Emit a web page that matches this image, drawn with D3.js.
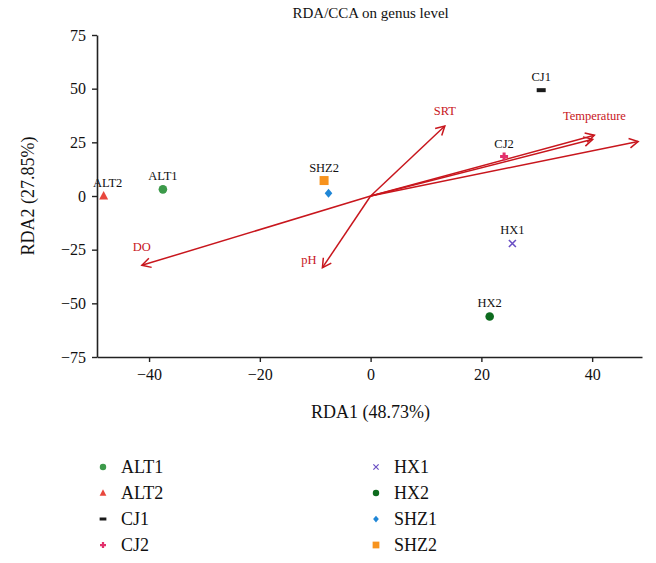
<!DOCTYPE html>
<html><head><meta charset="utf-8">
<script src="https://cdn.jsdelivr.net/npm/d3@7/dist/d3.min.js"></script>
<style>body{margin:0;background:#fff}svg{display:block}svg text{font-family:"Liberation Serif","Times New Roman","DejaVu Serif",serif !important}</style>
</head><body>
<script>
// ---- data ----
const sites = ["ALT1","ALT2","CJ1","CJ2","HX1","HX2","SHZ1","SHZ2"];
const siteX = [-37.5,-48.2,30.8,24.1,25.6,21.5,-7.6,-8.4];
const siteY = [3.1,0.0,49.3,18.4,-22.1,-56.1,1.3,7.2];
const siteShowLabel = [true,true,true,true,true,true,false,true];
const siteColors = ["#3c9a4a","#e8473d","#1a1a1a","#e2306c","#6a4fc4","#0d6b1e","#1f86d6","#f7931e"];
const siteShapes = ["circle","triangle","dash","plus","cross","circle","diamond","square"];

const envNames = ["SRT","Temperature","","","DO","pH"];
const envX = [13.4,40.4,40.1,48.3,-41.3,-8.7];
const envY = [32.6,28.3,26.4,25.4,-32.3,-33.4];

const xTicks = [-40,-20,0,20,40];
const yTicks = [-75,-50,-25,0,25,50,75];
const xDomain = [-49.4,49.0];
const yDomain = [-75,75];
const titleText = "RDA/CCA on genus level";
const xLabel = "RDA1 (48.73%)";
const yLabel = "RDA2 (27.85%)";

// ---- layout ----
const W=656,H=563;
const m={left:97,top:35,right:14,bottom:206};
const pw=W-m.left-m.right, ph=H-m.top-m.bottom;
const red="#c8161d";

const svg=d3.select("body").append("svg").attr("width",W).attr("height",H);
const x=d3.scaleLinear().domain(xDomain).range([m.left,m.left+pw]);
const y=d3.scaleLinear().domain(yDomain).range([m.top+ph,m.top]);

svg.append("text").attr("x",x(0)).attr("y",18).attr("text-anchor","middle")
  .attr("font-size",15).attr("fill","#111").text(titleText);

const fmt=d=>d<0?"\u2212"+Math.abs(d):String(d);
const xa=svg.append("g").attr("transform",`translate(0,${m.top+ph})`)
  .call(d3.axisBottom(x).tickValues(xTicks).tickFormat(fmt).tickSize(5).tickSizeOuter(0).tickPadding(7));
const ya=svg.append("g").attr("transform",`translate(${m.left},0)`)
  .call(d3.axisLeft(y).tickValues(yTicks).tickFormat(fmt).tickSize(5).tickSizeOuter(0).tickPadding(6));
[xa,ya].forEach(a=>{
  a.attr("font-family",null);
  a.selectAll("path").attr("stroke","#222").attr("stroke-width",1.6);
  a.selectAll("line").attr("stroke","#222").attr("stroke-width",1.4);
  a.selectAll("text").attr("font-size",16).attr("fill","#111");
});

svg.append("text").attr("x",x(0)).attr("y",418).attr("text-anchor","middle")
  .attr("font-size",18).attr("fill","#111").text(xLabel);
svg.append("text").attr("transform",`translate(34,${y(0)}) rotate(-90)`).attr("text-anchor","middle")
  .attr("font-size",18).attr("fill","#111").text(yLabel);

// ---- arrows ----
const ga=svg.append("g");
envX.forEach((ex,i)=>{
  const x0=x(0),y0=y(0),x1=x(ex),y1=y(envY[i]);
  ga.append("line").attr("x1",x0).attr("y1",y0).attr("x2",x1).attr("y2",y1)
    .attr("stroke",red).attr("stroke-width",1.5);
  const ang=Math.atan2(y1-y0,x1-x0), L=10, a=0.5;
  const p=d3.path();
  p.moveTo(x1-L*Math.cos(ang-a),y1-L*Math.sin(ang-a));
  p.lineTo(x1,y1);
  p.lineTo(x1-L*Math.cos(ang+a),y1-L*Math.sin(ang+a));
  ga.append("path").attr("d",p.toString()).attr("fill","none").attr("stroke",red).attr("stroke-width",1.5);
});
const envLabelDx=[0,0,0,0,0,-6];
const envLabelDy=[-11,-15,0,0,-14,-4];
envNames.forEach((n,i)=>{
  if(!n) return;
  ga.append("text").attr("x",x(envX[i])+envLabelDx[i]).attr("y",y(envY[i])+envLabelDy[i])
    .attr("text-anchor",i===5?"end":"middle").attr("font-size",12.5).attr("fill",red).text(n);
});

// ---- symbols ----
function drawSym(g,shape,cx,cy,color,s){
  s=s||1;
  if(shape==="circle") g.append("circle").attr("cx",cx).attr("cy",cy).attr("r",4.3*s).attr("fill",color);
  else if(shape==="triangle") g.append("path").attr("d",`M${cx},${cy-5*s}L${cx+4.5*s},${cy+3.5*s}L${cx-4.5*s},${cy+3.5*s}Z`).attr("fill",color);
  else if(shape==="dash") g.append("rect").attr("x",cx-4.5*s).attr("y",cy-2*s).attr("width",9*s).attr("height",4*s).attr("fill",color);
  else if(shape==="plus"){ g.append("path").attr("d",`M${cx-4*s},${cy}H${cx+4*s}M${cx},${cy-4*s}V${cy+4*s}`).attr("stroke",color).attr("stroke-width",3*s); }
  else if(shape==="cross"){ g.append("path").attr("d",`M${cx-3.5*s},${cy-3.5*s}L${cx+3.5*s},${cy+3.5*s}M${cx+3.5*s},${cy-3.5*s}L${cx-3.5*s},${cy+3.5*s}`).attr("stroke",color).attr("stroke-width",1.6*s); }
  else if(shape==="diamond") g.append("path").attr("d",`M${cx},${cy-4.5*s}L${cx+3.8*s},${cy}L${cx},${cy+4.5*s}L${cx-3.8*s},${cy}Z`).attr("fill",color);
  else if(shape==="square") g.append("rect").attr("x",cx-4.5*s).attr("y",cy-4.5*s).attr("width",9*s).attr("height",9*s).attr("fill",color);
}

const gp=svg.append("g");
sites.forEach((s,i)=>{
  const cx=x(siteX[i]),cy=y(siteY[i]);
  drawSym(gp,siteShapes[i],cx,cy,siteColors[i]);
  if(siteShowLabel[i])
    gp.append("text").attr("x",cx+(i===1?4:0)).attr("y",cy-9).attr("text-anchor","middle")
      .attr("font-size",12.5).attr("fill","#111").text(s);
});

// ---- legend ----
const gl=svg.append("g");
sites.forEach((s,i)=>{
  const col=Math.floor(i/4), row=i%4;
  const lx=103+col*273, ly=467+row*26;
  drawSym(gl,siteShapes[i],lx,ly,siteColors[i],0.75);
  gl.append("text").attr("x",lx+18).attr("y",ly+6).attr("font-size",18).attr("fill","#111").text(s);
});
</script>
</body></html>
